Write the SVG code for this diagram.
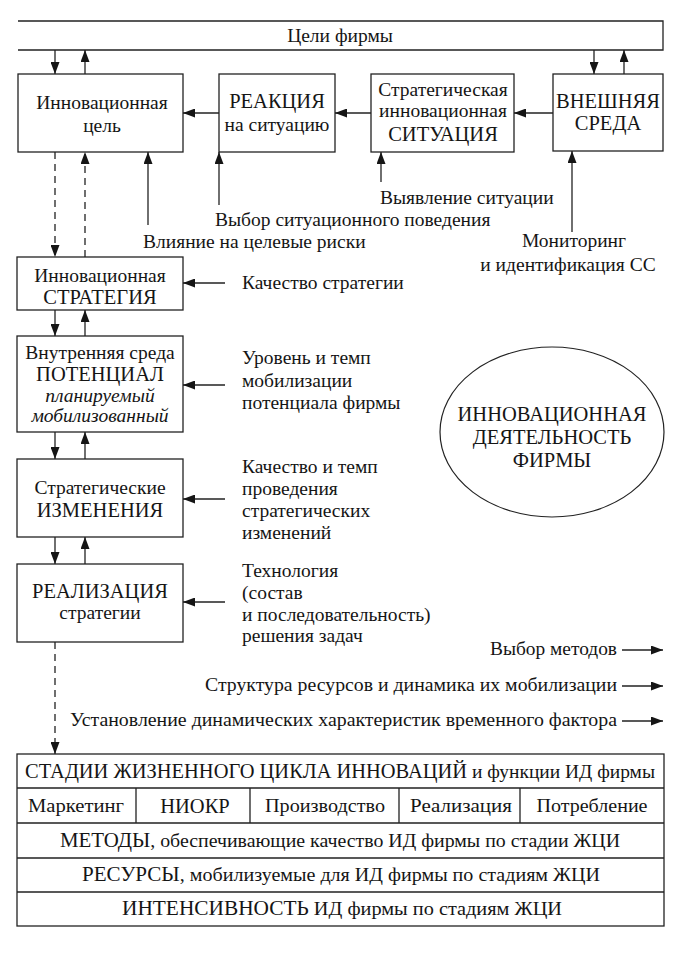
<svg xmlns="http://www.w3.org/2000/svg" width="684" height="957" viewBox="0 0 684 957">
<defs>
<style>
.c{text-anchor:middle}
.e{text-anchor:end}
.box{fill:#fff;stroke:#222;stroke-width:1.3}
.ln{fill:none;stroke:#222;stroke-width:1.3}
.ar{marker-end:url(#ah)}
.d{stroke-dasharray:7 5}
</style>
<marker id="ah" viewBox="0 0 12 9" refX="12" refY="4.5" markerWidth="12" markerHeight="9" markerUnits="userSpaceOnUse" orient="auto">
<path d="M0,0 L12,4.5 L0,9 z" fill="#151515"/>
</marker>
</defs>
<rect width="684" height="957" fill="#fff"/>

<g id="goals">
<path class="ln" d="M18,21 H663 V50 H18"/>
<text font-family="Liberation Serif" font-size="19.5" fill="#151515" x="340" y="42" class="c">Цели фирмы</text>
</g>

<g id="innovation-goal">
<rect class="box" x="18" y="74" width="165" height="78"/>
<text font-family="Liberation Serif" font-size="19.5" fill="#151515" x="102" y="109" class="c">Инновационная</text>
<text font-family="Liberation Serif" font-size="19.5" fill="#151515" x="102" y="132" class="c">цель</text>
</g>

<g id="reaction">
<rect class="box" x="219" y="74" width="116" height="78"/>
<text font-family="Liberation Serif" font-size="20.5" fill="#151515" x="277" y="108" class="c">РЕАКЦИЯ</text>
<text font-family="Liberation Serif" font-size="19.5" fill="#151515" x="277" y="131" class="c">на ситуацию</text>
</g>

<g id="situation">
<rect class="box" x="371" y="74" width="143" height="78"/>
<text font-family="Liberation Serif" font-size="19.5" fill="#151515" x="443" y="96" class="c">Стратегическая</text>
<text font-family="Liberation Serif" font-size="19.5" fill="#151515" x="443" y="117" class="c">инновационная</text>
<text font-family="Liberation Serif" font-size="20.5" fill="#151515" x="443" y="141" class="c">СИТУАЦИЯ</text>
</g>

<g id="external">
<rect class="box" x="553" y="74" width="110" height="77"/>
<text font-family="Liberation Serif" font-size="20.5" fill="#151515" x="608" y="108" class="c">ВНЕШНЯЯ</text>
<text font-family="Liberation Serif" font-size="20.5" fill="#151515" x="608" y="130" class="c">СРЕДА</text>
</g>

<g id="strategy">
<rect class="box" x="17" y="257" width="166" height="53"/>
<text font-family="Liberation Serif" font-size="19.5" fill="#151515" x="100" y="282" class="c">Инновационная</text>
<text font-family="Liberation Serif" font-size="20.5" fill="#151515" x="100" y="304" class="c">СТРАТЕГИЯ</text>
</g>

<g id="potential">
<rect class="box" x="17" y="336" width="166" height="96"/>
<text font-family="Liberation Serif" font-size="19.5" fill="#151515" x="100" y="359" class="c">Внутренняя среда</text>
<text font-family="Liberation Serif" font-size="20.5" fill="#151515" x="100" y="381" class="c">ПОТЕНЦИАЛ</text>
<text font-family="Liberation Serif" font-size="19.5" font-style="italic" fill="#151515" x="100" y="402" class="c">планируемый</text>
<text font-family="Liberation Serif" font-size="19.5" font-style="italic" fill="#151515" x="100" y="422" class="c">мобилизованный</text>
</g>

<g id="changes">
<rect class="box" x="17" y="459" width="166" height="78"/>
<text font-family="Liberation Serif" font-size="19.5" fill="#151515" x="100" y="494" class="c">Стратегические</text>
<text font-family="Liberation Serif" font-size="20.5" fill="#151515" x="100" y="517" class="c">ИЗМЕНЕНИЯ</text>
</g>

<g id="realization">
<rect class="box" x="17" y="564" width="166" height="78"/>
<text font-family="Liberation Serif" font-size="20.5" fill="#151515" x="100" y="598" class="c">РЕАЛИЗАЦИЯ</text>
<text font-family="Liberation Serif" font-size="19.5" fill="#151515" x="100" y="619" class="c">стратегии</text>
</g>

<g id="activity">
<ellipse cx="552" cy="432" rx="112" ry="85" fill="none" stroke="#222" stroke-width="1.2"/>
<text font-family="Liberation Serif" font-size="20.5" fill="#151515" x="552" y="421" class="c">ИННОВАЦИОННАЯ</text>
<text font-family="Liberation Serif" font-size="20.5" fill="#151515" x="552" y="444" class="c">ДЕЯТЕЛЬНОСТЬ</text>
<text font-family="Liberation Serif" font-size="20.5" fill="#151515" x="552" y="467" class="c">ФИРМЫ</text>
</g>

<g id="labels">
<text font-family="Liberation Serif" font-size="19.5" fill="#151515" x="380" y="204">Выявление ситуации</text>
<text font-family="Liberation Serif" font-size="19.5" fill="#151515" x="215" y="226">Выбор ситуационного поведения</text>
<text font-family="Liberation Serif" font-size="19.5" fill="#151515" x="143" y="248">Влияние на целевые риски</text>
<text font-family="Liberation Serif" font-size="19.5" fill="#151515" x="574" y="247" class="c">Мониторинг</text>
<text font-family="Liberation Serif" font-size="19.5" fill="#151515" x="568" y="271" class="c">и идентификация СС</text>
<text font-family="Liberation Serif" font-size="19.5" fill="#151515" x="242" y="289">Качество стратегии</text>
<text font-family="Liberation Serif" font-size="19.5" fill="#151515" x="242" y="364">Уровень и темп</text>
<text font-family="Liberation Serif" font-size="19.5" fill="#151515" x="242" y="387">мобилизации</text>
<text font-family="Liberation Serif" font-size="19.5" fill="#151515" x="242" y="409">потенциала фирмы</text>
<text font-family="Liberation Serif" font-size="19.5" fill="#151515" x="242" y="473">Качество и темп</text>
<text font-family="Liberation Serif" font-size="19.5" fill="#151515" x="242" y="495">проведения</text>
<text font-family="Liberation Serif" font-size="19.5" fill="#151515" x="242" y="517">стратегических</text>
<text font-family="Liberation Serif" font-size="19.5" fill="#151515" x="242" y="539">изменений</text>
<text font-family="Liberation Serif" font-size="19.5" fill="#151515" x="242" y="577">Технология</text>
<text font-family="Liberation Serif" font-size="19.5" fill="#151515" x="242" y="599">(состав</text>
<text font-family="Liberation Serif" font-size="19.5" fill="#151515" x="242" y="621">и последовательность)</text>
<text font-family="Liberation Serif" font-size="19.5" fill="#151515" x="242" y="642">решения задач</text>
<text font-family="Liberation Serif" font-size="19.5" fill="#151515" x="617" y="655" class="e" textLength="127" lengthAdjust="spacingAndGlyphs">Выбор методов</text>
<text font-family="Liberation Serif" font-size="19.5" fill="#151515" x="617" y="691" class="e" textLength="412" lengthAdjust="spacingAndGlyphs">Структура ресурсов и динамика их мобилизации</text>
<text font-family="Liberation Serif" font-size="19.5" fill="#151515" x="617" y="726" class="e" textLength="547" lengthAdjust="spacingAndGlyphs">Установление динамических характеристик временного фактора</text>
</g>

<g id="lifecycle-table">
<rect class="box" x="17" y="754" width="647" height="172"/>
<path class="ln" d="M17,788 H664 M17,823 H664 M17,858 H664 M17,892 H664 M136,788 V823 M250,788 V823 M399,788 V823 M520,788 V823"/>
<text font-family="Liberation Serif" font-size="19.5" fill="#151515" x="340" y="778" class="c" textLength="630" lengthAdjust="spacingAndGlyphs"><tspan font-size="20.5">СТАДИИ ЖИЗНЕННОГО ЦИКЛА ИННОВАЦИЙ</tspan> и функции ИД фирмы</text>
<text font-family="Liberation Serif" font-size="19.5" fill="#151515" x="76" y="812" class="c" textLength="96" lengthAdjust="spacingAndGlyphs">Маркетинг</text>
<text font-family="Liberation Serif" font-size="20.5" fill="#151515" x="195" y="813" class="c">НИОКР</text>
<text font-family="Liberation Serif" font-size="19.5" fill="#151515" x="325" y="812" class="c" textLength="120" lengthAdjust="spacingAndGlyphs">Производство</text>
<text font-family="Liberation Serif" font-size="19.5" fill="#151515" x="461" y="812" class="c" textLength="102" lengthAdjust="spacingAndGlyphs">Реализация</text>
<text font-family="Liberation Serif" font-size="19.5" fill="#151515" x="592" y="812" class="c" textLength="111" lengthAdjust="spacingAndGlyphs">Потребление</text>
<text font-family="Liberation Serif" font-size="19.5" fill="#151515" x="340" y="847" class="c" textLength="560" lengthAdjust="spacingAndGlyphs"><tspan font-size="20.5">МЕТОДЫ</tspan>, обеспечивающие качество ИД фирмы по стадии ЖЦИ</text>
<text font-family="Liberation Serif" font-size="19.5" fill="#151515" x="341" y="881" class="c" textLength="518" lengthAdjust="spacingAndGlyphs"><tspan font-size="20.5">РЕСУРСЫ</tspan>, мобилизуемые для ИД фирмы по стадиям ЖЦИ</text>
<text font-family="Liberation Serif" font-size="19.5" fill="#151515" x="342" y="915" class="c" textLength="440" lengthAdjust="spacingAndGlyphs"><tspan font-size="20.5">ИНТЕНСИВНОСТЬ</tspan> ИД фирмы по стадиям ЖЦИ</text>
</g>

<g id="connectors">
<path class="ln ar" d="M55,50 V74"/>
<path class="ln ar" d="M85,74 V50"/>
<path class="ln ar" d="M594,50 V74"/>
<path class="ln ar" d="M624,74 V50"/>
<path class="ln ar" d="M219,113 H183"/>
<path class="ln ar" d="M371,113 H335"/>
<path class="ln ar" d="M553,113 H514"/>
<path class="ln ar" d="M148,225 V152"/>
<path class="ln ar" d="M219,205 V152"/>
<path class="ln ar" d="M381,182 V152"/>
<path class="ln ar" d="M572,232 V151"/>
<path class="ln ar d" d="M55,152 V257"/>
<path class="ln ar d" d="M85,257 V152"/>
<path class="ln ar" d="M55,310 V336"/>
<path class="ln ar" d="M85,336 V310"/>
<path class="ln ar" d="M55,432 V459"/>
<path class="ln ar" d="M85,459 V432"/>
<path class="ln ar" d="M55,537 V564"/>
<path class="ln ar" d="M85,564 V537"/>
<path class="ln ar d" d="M55,642 V754"/>
<path class="ln ar" d="M225,283 H183"/>
<path class="ln ar" d="M225,385 H183"/>
<path class="ln ar" d="M225,499 H183"/>
<path class="ln ar" d="M225,602 H183"/>
<path class="ln ar" d="M622,650 H663"/>
<path class="ln ar" d="M622,686 H663"/>
<path class="ln ar" d="M622,721 H663"/>
</g>
</svg>
